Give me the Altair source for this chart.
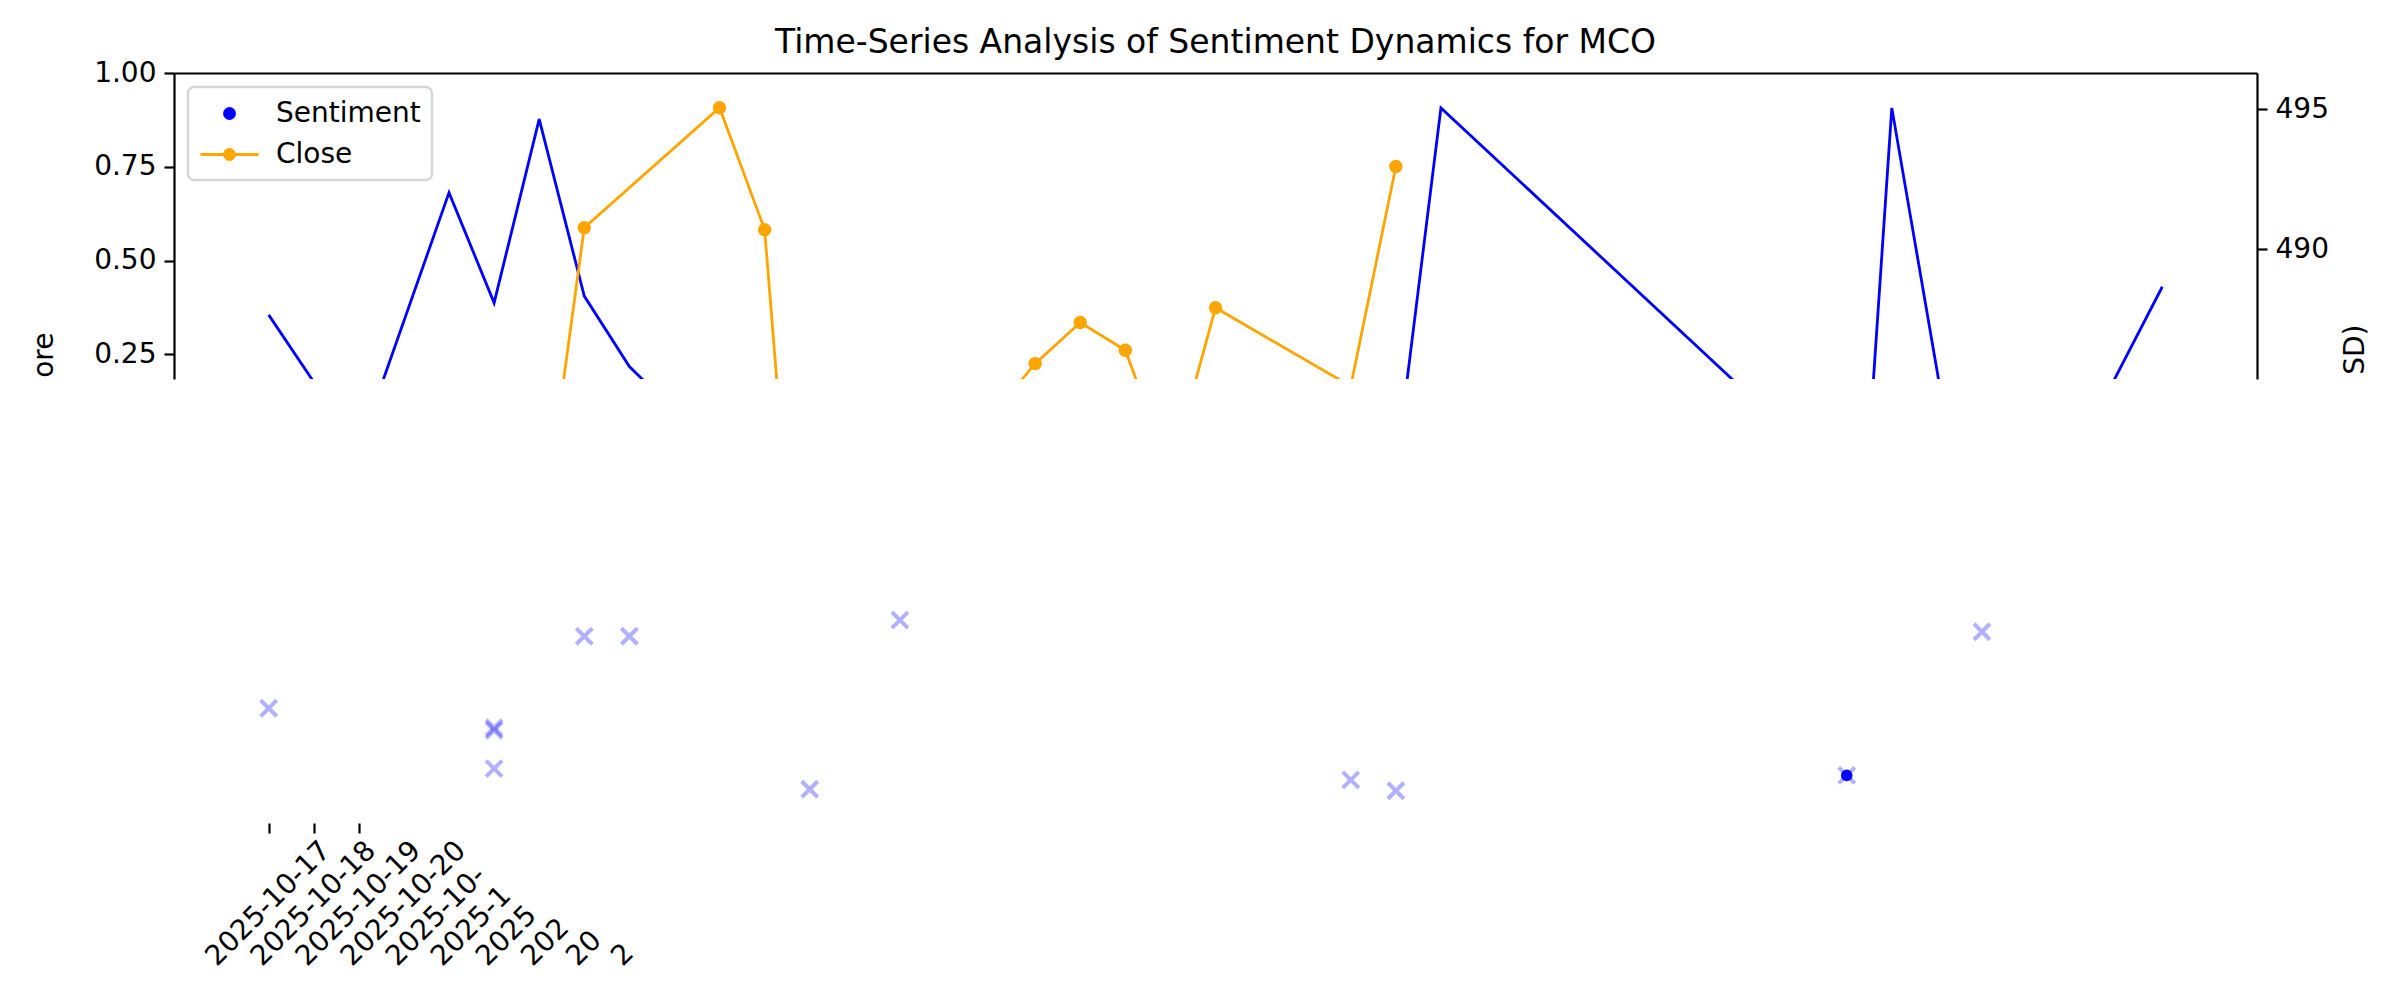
import altair as alt
import pandas as pd

FONT = "DejaVu Sans"
TITLE = "Time-Series Analysis of Sentiment Dynamics for MCO"

# --- data ---
# sentiment line (blue)
line_dates = ["2025-10-17", "2025-10-19", "2025-10-21", "2025-10-22", "2025-10-23",
              "2025-10-24", "2025-10-25", "2025-10-26", "2025-11-11", "2025-11-12",
              "2025-11-20", "2025-11-21", "2025-11-22", "2025-11-24", "2025-11-26",
              "2025-11-28"]
line_scores = [0.355, -0.003, 0.681, 0.387, 0.877, 0.405, 0.217, 0.10, -0.06, 0.907,
               0.011, -0.873, 0.907, -0.49, -0.035, 0.43]

# close price (orange, right axis)
close_dates = ["2025-10-23", "2025-10-24", "2025-10-27", "2025-10-28", "2025-10-29",
               "2025-10-31", "2025-11-03", "2025-11-04", "2025-11-05", "2025-11-06",
               "2025-11-07", "2025-11-10", "2025-11-11"]
close_vals = [478.9, 490.77, 495.06, 490.70, 470.72, 480.1, 485.91, 487.38, 486.39,
              482.0, 487.91, 485.1, 492.96]

# sentiment scatter (blue dot)
dot_dates = ["2025-11-21"]
dot_scores = [-0.873]

# individual scores (light x markers)
x_dates = ["2025-10-17", "2025-10-22", "2025-10-22", "2025-10-22", "2025-10-24",
           "2025-10-25", "2025-10-29", "2025-10-31", "2025-11-10", "2025-11-11",
           "2025-11-21", "2025-11-24"]
x_scores = [-0.694, -0.746, -0.753, -0.855, -0.502, -0.502, -0.910, -0.459, -0.885,
            -0.914, -0.873, -0.490]

legend_labels = ["Sentiment", "Close"]
tick_days = [17, 18, 19, 20, 21, 22, 23, 24, 25, 26]
label_lengths = [10, 10, 10, 10, 8, 6, 4, 3, 2, 1]

df_line = pd.DataFrame({"date": pd.to_datetime(line_dates), "score": line_scores})
df_close = pd.DataFrame({"date": pd.to_datetime(close_dates), "close": close_vals})
df_dot = pd.DataFrame({"date": pd.to_datetime(dot_dates), "score": dot_scores})
df_x = pd.DataFrame({"date": pd.to_datetime(x_dates), "score": x_scores})
df_leg = pd.DataFrame({"date": pd.to_datetime([close_dates[2]] * 2),
                       "close": [max(close_vals)] * 2,
                       "series": legend_labels})

W = 2083
H_TOP = 306
H_BOT = 444

x_domain = [alt.DateTime(year=2025, month=10, date=14, hours=21, minutes=36),
            alt.DateTime(year=2025, month=11, date=30, hours=2, minutes=24)]
x_scale = alt.Scale(domain=x_domain, nice=False)

x_top = alt.X("date:T", scale=x_scale,
              axis=alt.Axis(orient="top", labels=False, ticks=False, domain=True,
                            grid=False, title=None))

y_left = alt.Y("score:Q", scale=alt.Scale(domain=[0.184, 1.0], nice=False, zero=False),
               axis=alt.Axis(values=[0.25, 0.5, 0.75, 1.0], format=".2f",
                             title="ore", titleAngle=270, titleAlign="right",
                             titleBaseline="alphabetic", titleX=-122, titleY=259,
                             labelPadding=8))

y_right = alt.Y("close:Q", scale=alt.Scale(domain=[485.36, 496.30], nice=False, zero=False),
                axis=alt.Axis(orient="right", values=[490, 495], format="d",
                              title="SD)", titleAngle=270, titleAlign="right",
                              titleBaseline="alphabetic", titleX=106, titleY=251,
                              labelPadding=8))

blue_line = alt.Chart(df_line).mark_line(color="#0000ff", strokeWidth=2.8, clip=True).encode(
    x=x_top, y=y_left)

orange_line = alt.Chart(df_close).mark_line(color="#ffa500", strokeWidth=2.8, clip=True).encode(
    x=x_top, y=y_right)
orange_pts = alt.Chart(df_close).mark_circle(color="#ffa500", size=180, opacity=1, clip=True).encode(
    x=x_top, y=y_right)

CIRCLE_PATH = "M0.36,0A0.36,0.36 0 1,1 -0.36,0A0.36,0.36 0 1,1 0.36,0Z"
LINEDOT_PATH = "M-2.07,0L2.07,0M0.36,0A0.36,0.36 0 1,1 -0.36,0A0.36,0.36 0 1,1 0.36,0Z"
leg = alt.Legend(title=None, orient="top-left", offset=14, symbolSize=784,
                 symbolStrokeWidth=2.8, symbolOpacity=1, symbolOffset=15,
                 labelFontSize=28, labelFont=FONT, labelOffset=31, padding=11,
                 rowPadding=11, cornerRadius=6, fillColor="white",
                 strokeColor="#d5d5d5")
col_scale = alt.Scale(domain=legend_labels, range=["#0000ff", "#ffa500"])
legend_pts = alt.Chart(df_leg).mark_point(filled=True, opacity=0, clip=True).encode(
    x=x_top, y=y_right,
    fill=alt.Fill("series:N", scale=col_scale, legend=leg, sort=legend_labels),
    stroke=alt.Stroke("series:N", scale=col_scale, legend=leg, sort=legend_labels),
    shape=alt.Shape("series:N", scale=alt.Scale(domain=legend_labels,
                                                range=[CIRCLE_PATH, LINEDOT_PATH]),
                    legend=leg, sort=legend_labels),
)

orange = alt.layer(orange_line, orange_pts, legend_pts)

top = alt.layer(blue_line, orange).resolve_scale(y="independent").properties(
    width=W, height=H_TOP,
    title=alt.TitleParams(TITLE, anchor="middle", frame="group", offset=-27,
                          baseline="alphabetic"))

label_expr = ("substring(timeFormat(datum.value, '%Y-%m-%d'), 0, "
              + str(label_lengths)
              + "[round((datum.value - datetime(2025, 9, 17)) / 86400000)])")

x_bot = alt.X("date:T", scale=x_scale,
              axis=alt.Axis(orient="bottom", domain=False, grid=False, title=None,
                            values=[alt.DateTime(year=2025, month=10, date=d) for d in tick_days],
                            labelExpr=label_expr, labelAngle=-45, labelAlign="left",
                            labelBaseline="middle", labelOffset=-58, labelPadding=128,
                            labelOverlap=False, labelFlush=False, labelBound=False,
                            tickOpacity={"condition": {"test": "datum.value < datetime(2025, 9, 19, 12)",
                                                       "value": 1}, "value": 0}))
y_bot = alt.Y("score:Q", scale=alt.Scale(domain=[-1.0, 0.184], nice=False, zero=False), axis=None)

X_PATH = "M-1,-1L1,1M-1,1L1,-1"
x_marks = alt.Chart(df_x).mark_point(shape=X_PATH, filled=False, color="#0000ff",
                                     strokeWidth=4, opacity=0.3, size=256).encode(x=x_bot, y=y_bot)
dots = alt.Chart(df_dot).mark_circle(color="#0000ff", size=135, opacity=1).encode(x=x_bot, y=y_bot)

bottom = alt.layer(x_marks, dots).properties(width=W, height=H_BOT)

chart = alt.vconcat(top, bottom, spacing=0).resolve_scale(
    x="independent", y="independent"
).properties(
    padding={"left": 22, "top": 19, "right": 5, "bottom": 5}
).configure_view(stroke=None).configure_axis(
    labelFont=FONT, titleFont=FONT, labelFontSize=28, titleFontSize=28,
    titleFontWeight="normal", labelColor="black", titleColor="black",
    domainColor="black", tickColor="black", domainWidth=2.2, tickWidth=2.2,
    tickSize=10, grid=False
).configure_title(font=FONT, fontSize=33, fontWeight="normal", color="black"
).configure_legend(strokeWidth=2.4)

chart.save("out.html", embed_options={"renderer": "svg", "actions": False})
